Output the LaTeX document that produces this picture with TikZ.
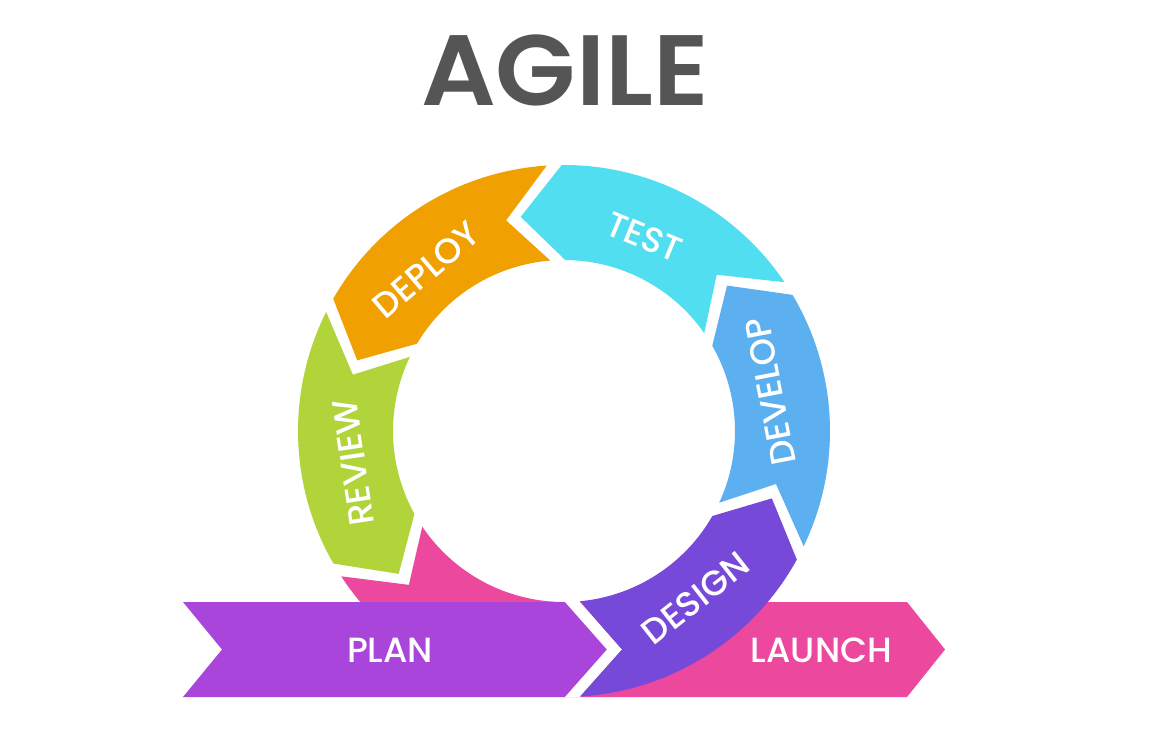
\documentclass[tikz,border=0pt]{standalone}
\usepackage{fontspec}
\IfFontExistsTF{Poppins Medium}{\newfontfamily\lblfont{Poppins Medium}}{\newfontfamily\lblfontbase{Poppins}\def\lblfont{\lblfontbase\bfseries}}
\IfFontExistsTF{Poppins SemiBold}{\newfontfamily\ttlfont{Poppins SemiBold}}{\newfontfamily\ttlfontbase{Poppins}\def\ttlfont{\ttlfontbase\bfseries}}
\definecolor{cTest}{RGB}{80,222,240}
\definecolor{cDeploy}{RGB}{240,160,0}
\definecolor{cReview}{RGB}{176,212,58}
\definecolor{cLaunch}{RGB}{236,72,158}
\definecolor{cPlan}{RGB}{170,69,220}
\definecolor{cDesign}{RGB}{118,73,216}
\definecolor{cDevelop}{RGB}{92,176,240}
\definecolor{cTitle}{RGB}{85,85,85}
\def\Ro{266}\def\Ri{171}\def\Rm{218.5}\def\Hd{11.3}
\def\dO{1.615}\def\dM{1.967}\def\dI{2.513}
\newcommand{\ringpiece}[3]{%
  \fill[#1] ({#2+\dO}:\Ro) arc[start angle={#2+\dO}, end angle={#3-\dO}, radius=\Ro]
    -- ({#3+\Hd-\dM}:\Rm) -- ({#3-\dI}:\Ri)
    arc[start angle={#3-\dI}, end angle={#2+\dI}, radius=\Ri]
    -- ({#2+\Hd+\dM}:\Rm) -- cycle;}
\tikzset{
  lbl/.style={text=white, inner sep=0pt, font=\lblfont\fontsize{35}{40}\selectfont},
  ttl/.style={text=cTitle, inner sep=0pt, xscale=1.045, font=\ttlfont\fontsize{100}{110}\selectfont}
}
\begin{document}
\begin{tikzpicture}[x=1pt,y=1pt]
\fill[white] (0,0) rectangle (1160,-731);
\useasboundingbox (0,0) rectangle (1160,-731);
\node[ttl] (title) at (565,-70) {AGILE};
\begin{scope}[shift={(564,-431)}]
  % pink launch track
  \fill[cLaunch] ({211.5+\dO}:\Ro) arc[start angle={211.5+\dO}, end angle=270, radius=\Ro]
    -- (343,-266) -- (381,-218.5) -- (343,-171) -- (0,-171)
    arc[start angle=270, end angle={211.5+\dI}, radius=\Ri]
    -- ({211.5+\Hd+\dM}:\Rm) -- cycle;
  % plan ribbon
  \fill[cPlan] (-381,-171) -- (1,-171) -- (43,-218.5) -- (1,-266) -- (-381,-266) -- (-342,-218.5) -- cycle;
  % white gap between plan and design
  \fill[white] (1,-171) -- (43,-218.5) -- (1,-266) -- (16,-266) -- (58,-218.5) -- (16,-171) -- cycle;
  % design
  \fill[cDesign] (16,-170.25) -- (58,-218.5) -- (-86.55:\Ro)
    arc[start angle=-86.55, end angle={-27.3-\dO}, radius=\Ro]
    -- ({-27.3+\Hd-\dM}:\Rm) -- ({-27.3-\dI}:\Ri)
    arc[start angle={-27.3-\dI}, end angle=-84.63, radius=\Ri] -- cycle;
  \ringpiece{cDevelop}{-27.3}{32.4}
  \ringpiece{cTest}{32.4}{92.1}
  \ringpiece{cDeploy}{92.1}{151.8}
  \ringpiece{cReview}{151.8}{211.5}
  \node[lbl, rotate=40.5] (deploy) at (130.5:212) {DEPLOY};
  \node[lbl, rotate=-22.5] (test) at (67.5:210) {TEST};
  \node[lbl, rotate=100.8] (develop) at (10.8:210) {DEVELOP};
  \node[lbl, rotate=98.6] (review) at (188.6:213) {REVIEW};
  \node[lbl, rotate=38.2] (design) at (-51.8:213) {DESIGN};
\end{scope}
\node[lbl] (plan) at (390,-650) {PLAN};
\node[lbl] (launch) at (821.5,-650.5) {LAUNCH};
\end{tikzpicture}
\end{document}
